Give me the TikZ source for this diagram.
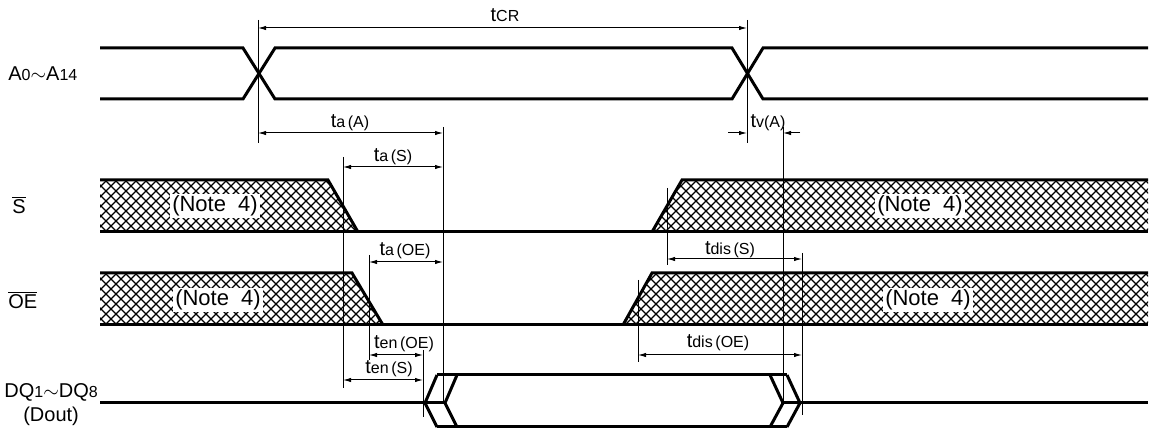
\documentclass[tikz,border=0pt]{standalone}
\usepackage{fontspec}
\setmainfont{Liberation Sans}
\usetikzlibrary{arrows.meta}

\tikzset{
  wave/.style={line width=1.5pt, line join=miter},
  hatch/.style={line width=0.6pt},
  guide/.style={line width=0.5pt},
  dim/.style={line width=0.5pt, {Latex[length=4pt,width=2.2pt]}-{Latex[length=4pt,width=2.2pt]}},
  dimin/.style={line width=0.5pt, -{Latex[length=4pt,width=2.2pt]}},
  tlabel/.style={font=\fontsize{10}{12}\selectfont, inner sep=0pt},
  signame/.style={font=\fontsize{10}{12}\selectfont, inner sep=0pt, anchor=west},
  note/.style={font=\fontsize{11}{13}\selectfont, fill=white, inner sep=1pt},
}
\newcommand{\tsub}[1]{{\fontsize{8}{10}\selectfont #1}}
\newcommand{\hatchlines}[2]{%
  \foreach \i in {20,30,...,1160}
    \draw[hatch] (\i,#1) -- ++(#2-#1,#2-#1) (\i,#2) -- ++(#2-#1,#1-#2);}

\begin{document}
\begin{tikzpicture}[x=0.5pt,y=-0.5pt]
\useasboundingbox (0,0) rectangle (1156,432);

% hatched (don't care) areas
\begin{scope}
  \clip (100,180) -- (328,180) -- (358,232) -- (100,232) -- cycle;
  \hatchlines{175}{237}
\end{scope}
\begin{scope}
  \clip (652,232) -- (682,180) -- (1148,180) -- (1148,232) -- cycle;
  \hatchlines{175}{237}
\end{scope}
\begin{scope}
  \clip (100,273) -- (352,273) -- (383,325) -- (100,325) -- cycle;
  \hatchlines{268}{330}
\end{scope}
\begin{scope}
  \clip (623,325) -- (652,273) -- (1148,273) -- (1148,325) -- cycle;
  \hatchlines{268}{330}
\end{scope}

\node[note] (ns1) at (215,206) {(Note\hspace{0.55em}4)};
\node[note] (ns2) at (920,206) {(Note\hspace{0.55em}4)};
\node[note] (no1) at (218,300) {(Note\hspace{0.55em}4)};
\node[note] (no2) at (928,300) {(Note\hspace{0.55em}4)};

% waveforms
\draw[wave] (100,48) -- (243,48) -- (275,99) -- (732,99) -- (763,48) -- (1148,48);
\draw[wave] (100,99) -- (243,99) -- (275,48) -- (732,48) -- (763,99) -- (1148,99);

\draw[wave] (100,180) -- (328,180) -- (358,232);
\draw[wave] (100,232) -- (1148,232);
\draw[wave] (652,232) -- (682,180) -- (1148,180);

\draw[wave] (100,273) -- (352,273) -- (383,325);
\draw[wave] (100,325) -- (1148,325);
\draw[wave] (623,325) -- (652,273) -- (1148,273);

\draw[wave] (100,403) -- (445,403);
\draw[wave] (437,375) -- (425,403) -- (437,427);
\draw[wave] (457,375) -- (445,403) -- (457,427);
\draw[wave] (437,375) -- (787,375);
\draw[wave] (437,427) -- (787,427);
\draw[wave] (770,375) -- (783,403) -- (770,427);
\draw[wave] (787,375) -- (800,403) -- (787,427);
\draw[wave] (783,403) -- (1148,403);

% signal names
\node[signame] (sa) at (8,74) {A\tsub{0}$\sim$A\tsub{14}};
\node[signame] (ss) at (12,205) {$\overline{\mbox{S}}$};
\node[signame] (soe) at (8,300) {$\overline{\mbox{OE}}$};
\node[signame, align=center] (sdq) at (4,405) {DQ\tsub{1}$\sim$DQ\tsub{8}\\(Dout)};

% reference lines
\draw[guide] (258,20) -- (258,143);
\draw[guide] (747,20) -- (747,143);
\draw[guide] (443,127) -- (443,402);
\draw[guide] (783,127) -- (783,402);
\draw[guide] (343,157) -- (343,388);
\draw[guide] (369,255) -- (369,360);
\draw[guide] (423,350) -- (423,417);
\draw[guide] (667,188) -- (667,265);
\draw[guide] (638,280) -- (638,362);
\draw[guide] (802,253) -- (802,415);

% timing arrows
\coordinate (cr-l) at (258,28);   \coordinate (cr-r) at (747,28);
\coordinate (aa-l) at (258,133);  \coordinate (aa-r) at (443,133);
\coordinate (va-lo) at (728,133); \coordinate (va-l) at (747,133);
\coordinate (va-ro) at (800,133); \coordinate (va-r) at (783,133);
\coordinate (as-l) at (343,167);  \coordinate (as-r) at (443,167);
\coordinate (aoe-l) at (369,262); \coordinate (aoe-r) at (443,262);
\coordinate (ds-l) at (667,259);  \coordinate (ds-r) at (802,259);
\coordinate (eoe-l) at (369,355); \coordinate (eoe-r) at (423,355);
\coordinate (doe-l) at (638,355); \coordinate (doe-r) at (802,355);
\coordinate (es-l) at (343,380);  \coordinate (es-r) at (423,380);

\draw[dim] (cr-l) -- (cr-r);
\draw[dim] (aa-l) -- (aa-r);
\draw[dimin] (va-lo) -- (va-l);
\draw[dimin] (va-ro) -- (va-r);
\draw[dim] (as-l) -- (as-r);
\draw[dim] (aoe-l) -- (aoe-r);
\draw[dim] (ds-l) -- (ds-r);
\draw[dim] (eoe-l) -- (eoe-r);
\draw[dim] (doe-l) -- (doe-r);
\draw[dim] (es-l) -- (es-r);

\node[tlabel] (lcr) at (505,15) {t\tsub{CR}};
\node[tlabel] (laa) at (350,123) {t\tsub{a\,(A)}};
\node[tlabel] (lva) at (768,123) {t\tsub{v(A)}};
\node[tlabel] (las) at (393,157) {t\tsub{a\,(S)}};
\node[tlabel] (laoe) at (405,251) {t\tsub{a\,(OE)}};
\node[tlabel] (lds) at (730,250) {t\tsub{dis\,(S)}};
\node[tlabel] (leoe) at (404,344) {t\tsub{en\,(OE)}};
\node[tlabel] (ldoe) at (718,343) {t\tsub{dis\,(OE)}};
\node[tlabel] (les) at (389,369) {t\tsub{en\,(S)}};
\end{tikzpicture}
\end{document}
